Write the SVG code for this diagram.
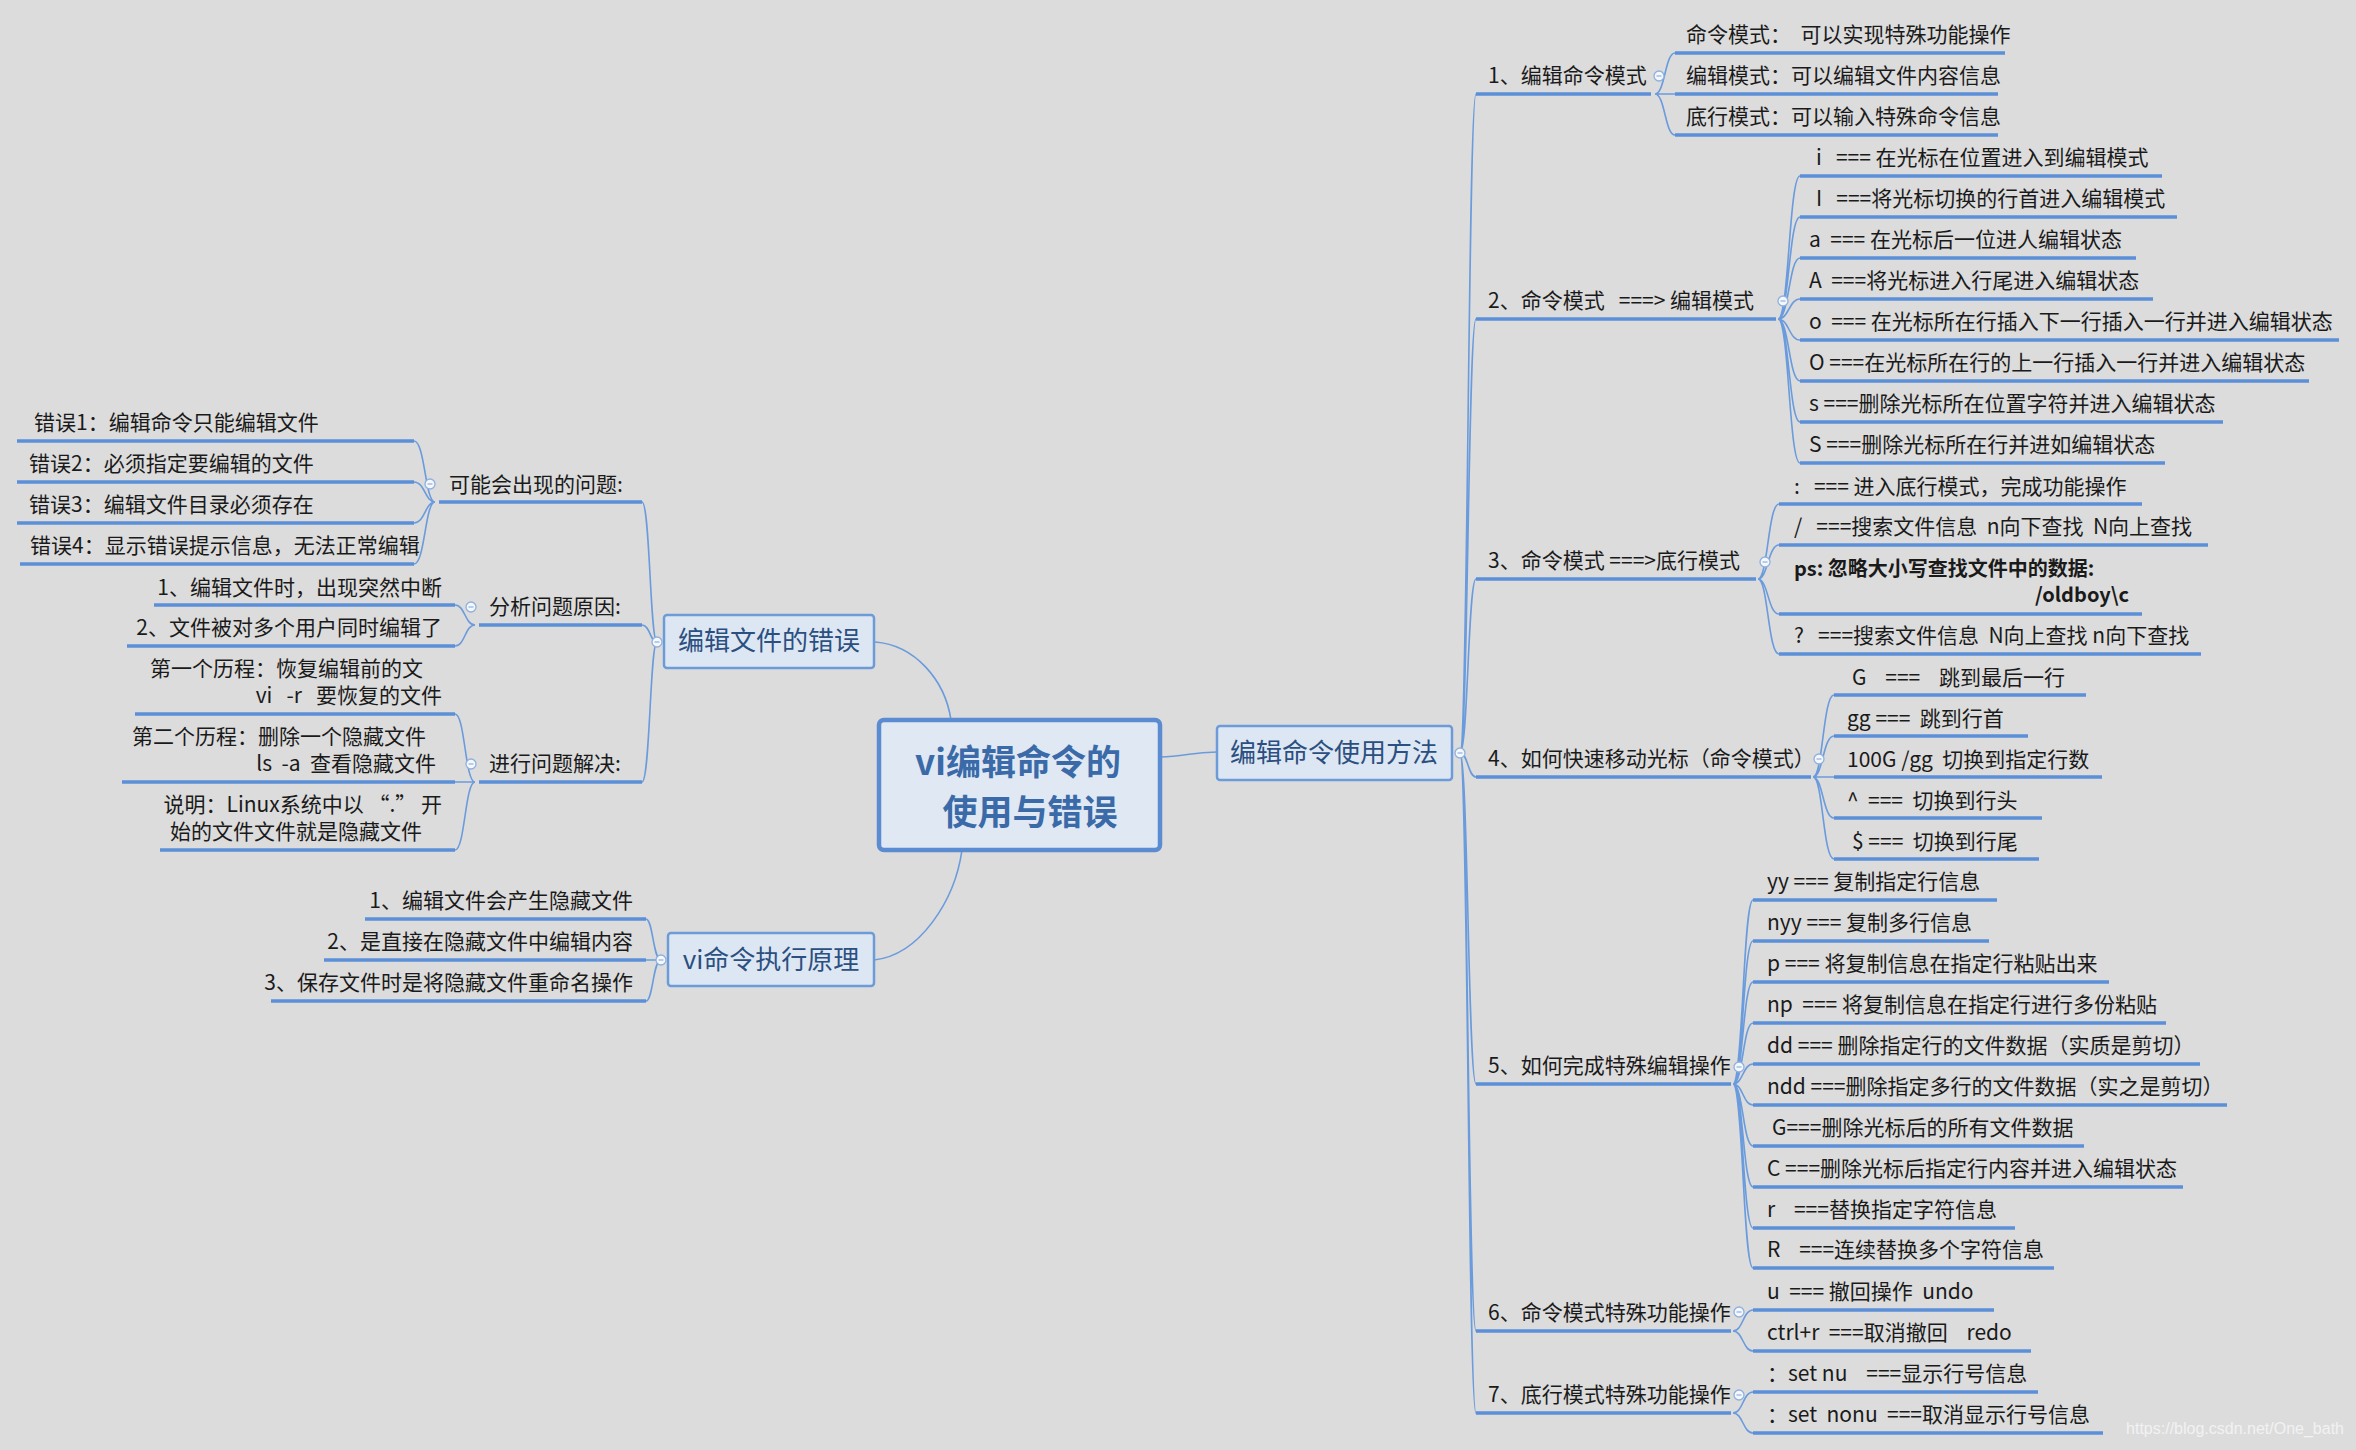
<svg xmlns="http://www.w3.org/2000/svg" width="2356" height="1450" viewBox="0 0 2356 1450">
<style>
text{font-family:"Noto Sans CJK SC","Microsoft YaHei",sans-serif;font-size:21px;fill:#1a1a1a;white-space:pre}
.ul{stroke:#5b8fd8;stroke-width:3.5;fill:none}
.cn{stroke:#6a9bdc;stroke-width:1.6;fill:none}
.nb{fill:#dde7f3;stroke:#6d9bd8;stroke-width:2.5}
.nt{font-size:26px;fill:#2b4f80;text-anchor:middle}
.ct{font-size:35px;font-weight:bold;fill:#3a6aa8;text-anchor:middle}
.cc{fill:#f4f7fb;stroke:#8fb0de;stroke-width:1.3}
.e{text-anchor:end}
.b{font-weight:bold}
</style>
<rect width="2356" height="1450" fill="#dcdcdc"/>
<defs><g id="col"><circle r="5" class="cc"/><line x1="-2.5" x2="2.5" stroke="#8fb0de" stroke-width="1.2"/></g></defs>
<g id="connectors">
<path class="cn" d="M951,720 C945,680 915,645 875,642"/>
<path class="cn" d="M962,850 C955,900 920,955 874,960"/>
<path class="cn" d="M1160,757 C1185,757 1190,752 1217,752"/>
<path class="cn" d="M1460,753 C1468,753 1468,94 1476,94 M1460,753 C1468,753 1468,319 1476,319 M1460,753 C1468,753 1468,579 1476,579 M1460,753 C1468,753 1468,777 1476,777 M1460,753 C1468,753 1468,1084 1476,1084 M1460,753 C1468,753 1468,1331 1476,1331 M1460,753 C1468,753 1468,1413 1476,1413"/>
<path class="cn" d="M1655,94 C1665,94 1665,53 1675,53 M1655,94 L1675,94 M1655,94 C1665,94 1665,135 1675,135"/>
<path class="cn" d="M1778,319 C1789,319 1789,176 1800,176 M1778,319 C1789,319 1789,217 1800,217 M1778,319 C1789,319 1789,258 1800,258 M1778,319 C1789,319 1789,299 1800,299 M1778,319 C1789,319 1789,340 1800,340 M1778,319 C1789,319 1789,381 1800,381 M1778,319 C1789,319 1789,422 1800,422 M1778,319 C1789,319 1789,463 1800,463"/>
<path class="cn" d="M1758,579 C1768,579 1768,504 1779,504 M1758,579 C1768,579 1768,545 1779,545 M1758,579 C1768,579 1768,614 1779,614 M1758,579 C1768,579 1768,654 1779,654"/>
<path class="cn" d="M1813,777 C1823,777 1823,695 1834,695 M1813,777 C1823,777 1823,736 1834,736 M1813,777 L1834,777 M1813,777 C1823,777 1823,818 1834,818 M1813,777 C1823,777 1823,859 1834,859"/>
<path class="cn" d="M1733,1084 C1743,1084 1743,900 1753,900 M1733,1084 C1743,1084 1743,941 1753,941 M1733,1084 C1743,1084 1743,982 1753,982 M1733,1084 C1743,1084 1743,1023 1753,1023 M1733,1084 C1743,1084 1743,1064 1753,1064 M1733,1084 C1743,1084 1743,1105 1753,1105 M1733,1084 C1743,1084 1743,1146 1753,1146 M1733,1084 C1743,1084 1743,1187 1753,1187 M1733,1084 C1743,1084 1743,1228 1753,1228 M1733,1084 C1743,1084 1743,1268 1753,1268"/>
<path class="cn" d="M1733,1331 C1743,1331 1743,1310 1753,1310 M1733,1331 C1743,1331 1743,1351 1753,1351"/>
<path class="cn" d="M1733,1413 C1743,1413 1743,1392 1753,1392 M1733,1413 C1743,1413 1743,1433 1753,1433"/>
<path class="cn" d="M657,642 C650,642 650,502 642,502 M657,642 C650,642 650,625 642,625 M657,642 C650,642 650,782 642,782"/>
<path class="cn" d="M435,502 C425,502 425,441 414,441 M435,502 C425,502 425,482 414,482 M435,502 C425,502 425,523 414,523 M435,502 C425,502 425,564 414,564"/>
<path class="cn" d="M475,625 C465,625 465,605 455,605 M475,625 C465,625 465,646 455,646"/>
<path class="cn" d="M475,782 C465,782 465,714 455,714 M475,782 L455,782 M475,782 C465,782 465,850 455,850"/>
<path class="cn" d="M661,960 C653,960 653,919 646,919 M661,960 L646,960 M661,960 C653,960 653,1001 646,1001"/>
</g>
<g id="center"><rect x="879" y="720" width="281" height="130" rx="5" fill="#dfe8f3" stroke="#5b8bd0" stroke-width="4.5"/>
<text class="ct" x="1018" y="775">vi编辑命令的</text><text class="ct" x="1030" y="825">使用与错误</text></g>
<g id="n-usage"><rect class="nb" x="1217" y="726" width="235" height="54" rx="3"/><text class="nt" x="1334" y="762">编辑命令使用方法</text><use href="#col" x="1460" y="753"/></g>
<g id="n-errors"><rect class="nb" x="664" y="615" width="210" height="53" rx="3"/><text class="nt" x="769" y="650">编辑文件的错误</text><use href="#col" x="657" y="642"/></g>
<g id="n-principle"><rect class="nb" x="668" y="933" width="206" height="53" rx="3"/><text class="nt" x="771" y="969">vi命令执行原理</text><use href="#col" x="661" y="960"/></g>
<g id="right-items">
<path class="ul" d="M1476,94H1651 M1476,319H1776 M1476,579H1756 M1476,777H1811 M1476,1084H1731 M1476,1331H1731 M1476,1413H1731"/>
<text x="1488" y="83">1、编辑命令模式</text>
<text x="1488" y="308">2、命令模式   ===&gt; 编辑模式</text>
<text x="1488" y="568">3、命令模式 ===&gt;底行模式</text>
<text x="1488" y="766">4、如何快速移动光标（命令模式）</text>
<text x="1488" y="1073">5、如何完成特殊编辑操作</text>
<text x="1488" y="1320">6、命令模式特殊功能操作</text>
<text x="1488" y="1402">7、底行模式特殊功能操作</text>
<use href="#col" x="1659" y="76"/><use href="#col" x="1783" y="301"/><use href="#col" x="1765" y="562"/><use href="#col" x="1819" y="759"/><use href="#col" x="1739" y="1067"/><use href="#col" x="1739" y="1312"/><use href="#col" x="1739" y="1395"/>
<path class="ul" d="M1675,53H2005 M1675,94H1998 M1675,135H1998"/>
<text x="1686" y="42">命令模式：  可以实现特殊功能操作</text>
<text x="1686" y="83">编辑模式：可以编辑文件内容信息</text>
<text x="1686" y="124">底行模式：可以输入特殊命令信息</text>
<path class="ul" d="M1800,176H2162 M1800,217H2177 M1800,258H2136 M1800,299H2153 M1800,340H2339 M1800,381H2309 M1800,422H2223 M1800,463H2165"/>
<text x="1816" y="165">i   === 在光标在位置进入到编辑模式</text>
<text x="1816" y="206">I   ===将光标切换的行首进入编辑模式</text>
<text x="1809" y="247">a  === 在光标后一位进人编辑状态</text>
<text x="1809" y="288">A  ===将光标进入行尾进入编辑状态</text>
<text x="1809" y="329">o  === 在光标所在行插入下一行插入一行并进入编辑状态</text>
<text x="1809" y="370">O ===在光标所在行的上一行插入一行并进入编辑状态</text>
<text x="1809" y="411">s ===删除光标所在位置字符并进入编辑状态</text>
<text x="1809" y="452">S ===删除光标所在行并进如编辑状态</text>
<path class="ul" d="M1779,504H2142 M1779,545H2208 M1779,614H2142 M1779,654H2201"/>
<text x="1794" y="494">:   === 进入底行模式，完成功能操作</text>
<text x="1794" y="534">/   ===搜索文件信息  n向下查找  N向上查找</text>
<text x="1794" y="576" class="b" style="font-size:20px">ps: 忽略大小写查找文件中的数据:</text>
<text x="2129" y="602" class="b e" style="font-size:20px">/oldboy\c</text>
<text x="1794" y="643">?   ===搜索文件信息  N向上查找 n向下查找</text>
<path class="ul" d="M1834,695H2086 M1834,736H2028 M1834,777H2102 M1834,818H2042 M1834,859H2039"/>
<text x="1852" y="685">G    ===    跳到最后一行</text>
<text x="1847" y="726">gg ===  跳到行首</text>
<text x="1847" y="767">100G /gg  切换到指定行数</text>
<text x="1847" y="808">^  ===  切换到行头</text>
<text x="1852" y="849">$ ===  切换到行尾</text>
<path class="ul" d="M1753,900H1997 M1753,941H1989 M1753,982H2109 M1753,1023H2166 M1753,1064H2200 M1753,1105H2227 M1753,1146H2084 M1753,1187H2183 M1753,1228H2015 M1753,1268H2054"/>
<text x="1767" y="889">yy === 复制指定行信息</text>
<text x="1767" y="930">nyy === 复制多行信息</text>
<text x="1767" y="971">p === 将复制信息在指定行粘贴出来</text>
<text x="1767" y="1012">np  === 将复制信息在指定行进行多份粘贴</text>
<text x="1767" y="1053">dd === 删除指定行的文件数据（实质是剪切）</text>
<text x="1767" y="1094">ndd ===删除指定多行的文件数据（实之是剪切）</text>
<text x="1772" y="1135">G===删除光标后的所有文件数据</text>
<text x="1767" y="1176">C ===删除光标后指定行内容并进入编辑状态</text>
<text x="1767" y="1217">r    ===替换指定字符信息</text>
<text x="1767" y="1257">R    ===连续替换多个字符信息</text>
<path class="ul" d="M1753,1310H1994 M1753,1351H2031 M1753,1392H2038 M1753,1433H2103"/>
<text x="1767" y="1299">u  === 撤回操作  undo</text>
<text x="1767" y="1340">ctrl+r  ===取消撤回    redo</text>
<text x="1767" y="1381">：set nu    ===显示行号信息</text>
<text x="1767" y="1422">：set  nonu  ===取消显示行号信息</text>
</g>
<g id="left-items">
<path class="ul" d="M439,502H642 M479,625H642 M479,782H642"/>
<text x="449" y="492">可能会出现的问题:</text>
<text x="489" y="614">分析问题原因:</text>
<text x="489" y="771">进行问题解决:</text>
<use href="#col" x="430" y="484"/><use href="#col" x="471" y="607"/><use href="#col" x="471" y="764"/>
<path class="ul" d="M17,441H414 M17,482H414 M17,523H414 M20,564H414"/>
<text x="34" y="430">错误1：编辑命令只能编辑文件</text>
<text x="29" y="471">错误2：必须指定要编辑的文件</text>
<text x="29" y="512">错误3：编辑文件目录必须存在</text>
<text x="30" y="553">错误4：显示错误提示信息，无法正常编辑</text>
<path class="ul" d="M154,605H455 M127,646H455"/>
<text x="442" y="595" class="e">1、编辑文件时，出现突然中断</text>
<text x="442" y="635" class="e">2、文件被对多个用户同时编辑了</text>
<path class="ul" d="M135,714H455 M122,782H455 M160,850H455"/>
<text x="150" y="676">第一个历程：恢复编辑前的文</text>
<text x="442" y="703" class="e">vi   -r   要恢复的文件</text>
<text x="132" y="744">第二个历程：删除一个隐藏文件</text>
<text x="436" y="771" class="e">ls  -a  查看隐藏文件</text>
<text x="442" y="812" class="e">说明：Linux系统中以 “.” 开</text>
<text x="170" y="839">始的文件文件就是隐藏文件</text>
<path class="ul" d="M365,919H646 M324,960H646 M271,1001H646"/>
<text x="633" y="908" class="e">1、编辑文件会产生隐藏文件</text>
<text x="633" y="949" class="e">2、是直接在隐藏文件中编辑内容</text>
<text x="633" y="990" class="e">3、保存文件时是将隐藏文件重命名操作</text>
</g>
<text x="2344" y="1434" class="e" style="font-family:'Liberation Sans',sans-serif;font-size:16px;fill:#f2f2f2">https://blog.csdn.net/One_bath</text>
</svg>
